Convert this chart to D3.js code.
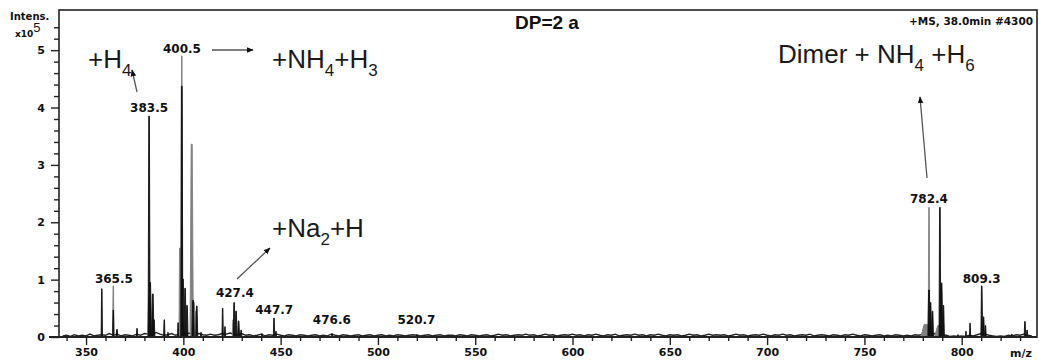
<!DOCTYPE html>
<html>
<head>
<meta charset="utf-8">
<script src="https://cdn.jsdelivr.net/npm/d3@7"></script>
<style>
  body { margin: 0; background: #fff; }
  svg { display: block; }
  .tick text { font-family: "DejaVu Sans", sans-serif; font-weight: bold; font-size: 11px; fill: #111; }
</style>
</head>
<body>
<div id="chart"></div>
<script>
// axis limits (m/z and intensity x10^5)
const mzRange = [336.1, 838.7];
const intensRange = [0, 5.7];
const xMajor = [350, 400, 450, 500, 550, 600, 650, 700, 750, 800];
const xMinor = [340, 360, 370, 380, 390, 410, 420, 430, 440, 460, 470, 480, 490, 510, 520, 530, 540,
  560, 570, 580, 590, 610, 620, 630, 640, 660, 670, 680, 690, 710, 720, 730, 740, 760, 770, 780, 790,
  810, 820, 830];
const yMajor = [0, 1, 2, 3, 4, 5];
const yMinor = [0.2, 0.4, 0.6, 0.8, 1.2, 1.4, 1.6, 1.8, 2.2, 2.4, 2.6, 2.8, 3.2, 3.4, 3.6, 3.8,
  4.2, 4.4, 4.6, 4.8, 5.2, 5.4];

// baseline noise, one reading every 2 m/z from 338 to 836
const noiseStart = 338;
const noiseStep = 2;
const noise = [
  0.02,0.03,0.01,0.04,0.02,0.03,0.02,0.05,0.02,0.03,
  0.04,0.03,0.06,0.03,0.05,0.02,0.04,0.03,0.02,0.05,
  0.03,0.06,0.05,0.04,0.08,0.05,0.03,0.04,0.06,0.03,
  0.05,0.08,0.06,0.07,0.05,0.06,0.04,0.03,0.05,0.03,
  0.04,0.06,0.05,0.07,0.05,0.04,0.06,0.03,0.04,0.02,
  0.03,0.05,0.02,0.04,0.03,0.05,0.03,0.02,0.04,0.03,
  0.02,0.04,0.03,0.02,0.03,0.04,0.02,0.03,0.02,0.05,
  0.03,0.02,0.04,0.03,0.02,0.03,0.04,0.02,0.03,0.04,
  0.02,0.03,0.04,0.02,0.03,0.02,0.04,0.03,0.02,0.03,
  0.04,0.03,0.02,0.03,0.04,0.02,0.03,0.04,0.02,0.03,
  0.03,0.02,0.04,0.03,0.02,0.04,0.03,0.02,0.03,0.04,
  0.02,0.03,0.05,0.03,0.04,0.02,0.03,0.04,0.03,0.05,
  0.03,0.04,0.02,0.03,0.05,0.03,0.04,0.02,0.03,0.04,
  0.03,0.05,0.03,0.04,0.02,0.04,0.03,0.05,0.03,0.02,
  0.04,0.03,0.05,0.02,0.03,0.04,0.03,0.05,0.03,0.04,
  0.02,0.04,0.03,0.05,0.03,0.02,0.04,0.03,0.04,0.02,
  0.03,0.05,0.03,0.04,0.02,0.03,0.05,0.03,0.04,0.03,
  0.04,0.02,0.03,0.05,0.03,0.04,0.02,0.03,0.04,0.03,
  0.05,0.03,0.02,0.04,0.03,0.05,0.03,0.04,0.02,0.03,
  0.04,0.03,0.05,0.02,0.03,0.04,0.03,0.02,0.04,0.03,
  0.02,0.04,0.03,0.05,0.03,0.02,0.04,0.03,0.02,0.03,
  0.04,0.02,0.03,0.02,0.04,0.03,0.02,0.03,0.02,0.04,
  0.03,0.05,0.06,0.05,0.06,0.05,0.04,0.03,0.01,0.02,
  0.01,0.02,0.01,0.03,0.02,0.04,0.06,0.05,0.03,0.02,
  0.01,0.02,0.01,0.03,0.02,0.04,0.03,0.05,0.03,0.02
];

// peaks: [m/z, intensity x10^5, base width in m/z]
const grayPeaks = [
  [364.0, 0.89, 0.7], [382.4, 0.70, 1.5], [398.2, 1.55, 0.9], [399.2, 4.90, 0.8],
  [404.3, 3.36, 1.7], [405.5, 0.60, 1.2], [406.5, 0.45, 1.0], [425.6, 0.30, 1.0],
  [781.5, 0.22, 5.0], [783.2, 2.26, 0.8], [788.5, 0.20, 5.0]
];
const blackPeaks = [
  [358.1, 0.84, 0.7], [364.0, 0.47, 0.7], [365.9, 0.13, 1.0], [376.2, 0.15, 0.6],
  [382.4, 3.85, 1.0], [382.9, 0.95, 1.5], [384.3, 0.75, 1.2], [384.9, 0.30, 1.0],
  [390.2, 0.30, 0.7], [392.1, 0.08, 0.6], [397.3, 0.25, 0.6], [399.2, 4.37, 1.1],
  [399.8, 1.01, 1.2], [400.9, 0.85, 1.0], [401.9, 0.55, 1.0], [405.0, 0.64, 1.2],
  [406.9, 0.54, 1.0], [409.1, 0.08, 0.6], [420.2, 0.50, 0.7], [421.4, 0.18, 0.6],
  [426.1, 0.60, 0.9], [427.1, 0.45, 1.0], [428.4, 0.28, 1.0], [429.7, 0.12, 0.8],
  [440.4, 0.06, 0.6], [446.6, 0.33, 0.7], [447.6, 0.10, 0.6], [476.4, 0.06, 0.6],
  [520.1, 0.04, 0.6], [783.2, 0.82, 1.2], [784.0, 0.60, 1.0], [785.0, 0.45, 1.0],
  [788.8, 2.26, 0.9], [789.6, 0.94, 1.4], [790.6, 0.55, 1.0], [798.1, 0.04, 0.6],
  [802.2, 0.10, 0.5], [804.3, 0.24, 0.6], [810.3, 0.89, 0.9], [811.2, 0.35, 1.0],
  [812.2, 0.20, 0.8], [825.8, 0.05, 0.6], [832.5, 0.27, 0.8], [833.6, 0.12, 0.8]
];

// peak labels: [text, m/z, intensity of label baseline]
const peakLabels = [
  ["365.5", 364.3, 0.94], ["383.5", 382.4, 3.92], ["400.5", 399.3, 4.95],
  ["427.4", 426.5, 0.70], ["447.7", 446.7, 0.40], ["476.6", 476.3, 0.23],
  ["520.7", 519.8, 0.23], ["782.4", 783.2, 2.33], ["809.3", 810.3, 0.94]
];

const W = 1039, H = 364;
const plot = {left: 59, top: 10, right: 1037, bottom: 337};

const svg = d3.select("#chart").append("svg")
  .attr("width", W).attr("height", H)
  .style("font-family", "'Liberation Sans', Arial, sans-serif");

const x = d3.scaleLinear().domain(mzRange).range([plot.left, plot.right]);
const y = d3.scaleLinear().domain(intensRange).range([plot.bottom, plot.top]);

svg.append("defs").append("marker")
  .attr("id", "head")
  .attr("viewBox", "0 0 10 10")
  .attr("refX", 9).attr("refY", 5)
  .attr("markerWidth", 7).attr("markerHeight", 7)
  .attr("markerUnits", "userSpaceOnUse")
  .attr("orient", "auto")
  .append("path").attr("d", "M0,1 L10,5 L0,9 Z").attr("fill", "#111");

// noise trace
const noisePts = noise.map((v, i) => [noiseStart + i * noiseStep, v]);
const line = d3.line().x(d => x(d[0])).y(d => y(d[1]));
svg.append("path")
  .attr("d", line(noisePts))
  .attr("fill", "none").attr("stroke", "#222").attr("stroke-width", 1.4);

function peakPath(p) {
  const [m, h, w] = p;
  return `M${x(m - w / 2)},${y(0)} L${x(m - w / 6)},${y(h)} L${x(m + w / 6)},${y(h)} L${x(m + w / 2)},${y(0)} Z`;
}

svg.append("g").selectAll("path").data(grayPeaks).join("path")
  .attr("d", peakPath)
  .attr("fill", "#808080").attr("stroke", "#808080").attr("stroke-width", 0.9)
  .attr("stroke-linejoin", "round");

svg.append("g").selectAll("path").data(blackPeaks).join("path")
  .attr("d", peakPath)
  .attr("fill", "#111").attr("stroke", "#111").attr("stroke-width", 0.9)
  .attr("stroke-linejoin", "round");

// frame
svg.append("rect")
  .attr("x", plot.left).attr("y", plot.top)
  .attr("width", plot.right - plot.left).attr("height", plot.bottom - plot.top)
  .attr("fill", "none").attr("stroke", "#222").attr("stroke-width", 1.6);

// axes
const xAxisG = svg.append("g").attr("transform", `translate(0,${plot.bottom})`);
xAxisG.append("g").call(d3.axisBottom(x).tickValues(xMinor).tickSize(4).tickSizeOuter(0).tickFormat(""))
  .call(g => g.select(".domain").remove());
xAxisG.append("g").call(d3.axisBottom(x).tickValues(xMajor).tickSize(8).tickSizeOuter(0).tickFormat(d3.format("d")))
  .call(g => g.select(".domain").remove())
  .call(g => g.selectAll("text").attr("y", 11));
xAxisG.selectAll("line").attr("stroke", "#222").attr("stroke-width", 1.4);
xAxisG.append("line").attr("x1", plot.left - 10).attr("x2", plot.right)
  .attr("stroke", "#222").attr("stroke-width", 1.8);

const yAxisG = svg.append("g").attr("transform", `translate(${plot.left},0)`);
yAxisG.append("g").call(d3.axisLeft(y).tickValues(yMinor).tickSize(5).tickSizeOuter(0).tickFormat(""))
  .call(g => g.select(".domain").remove());
yAxisG.append("g").call(d3.axisLeft(y).tickValues(yMajor).tickSize(8).tickSizeOuter(0).tickFormat(d3.format("d")))
  .call(g => g.select(".domain").remove())
  .call(g => g.selectAll("text").attr("x", -14));
yAxisG.selectAll("line").attr("stroke", "#222").attr("stroke-width", 1.4);

// axis captions
const smallBold = sel => sel.attr("font-family", "'DejaVu Sans', sans-serif").attr("font-weight", "bold").attr("fill", "#111");
svg.append("text").call(smallBold).attr("x", 10).attr("y", 20).attr("font-size", 10).text("Intens.");
const xt = svg.append("text").call(smallBold).attr("x", 15).attr("y", 37).attr("font-size", 9);
xt.append("tspan").text("x10");
xt.append("tspan").attr("dy", -5).attr("font-size", 13).attr("font-weight", "normal")
  .attr("font-family", "'Liberation Sans', Arial, sans-serif").text("5");
svg.append("text").call(smallBold).attr("x", 1032).attr("y", 357).attr("font-size", 11)
  .attr("text-anchor", "end").text("m/z");
svg.append("text").call(smallBold).attr("x", 1033).attr("y", 25).attr("font-size", 10.5)
  .attr("text-anchor", "end").text("+MS, 38.0min #4300");

// peak labels
svg.append("g").selectAll("text").data(peakLabels).join("text")
  .call(smallBold)
  .attr("font-size", 12)
  .attr("text-anchor", "middle")
  .attr("x", d => x(d[1]))
  .attr("y", d => y(d[2]))
  .text(d => d[0]);

// title
svg.append("text").attr("x", 515).attr("y", 29)
  .attr("font-size", 19).attr("font-weight", "bold").attr("fill", "#111")
  .text("DP=2 a");

// ion annotations with subscripts
function ion(xp, yp, parts) {
  const t = svg.append("text").attr("x", xp).attr("y", yp)
    .attr("font-size", 26).attr("fill", "#1a1a1a");
  let shifted = false;
  parts.forEach(([s, sub]) => {
    const ts = t.append("tspan").text(s);
    if (sub && !shifted) { ts.attr("font-size", 17).attr("dy", 8); shifted = true; }
    else if (!sub && shifted) { ts.attr("dy", -8); shifted = false; }
    else if (sub) ts.attr("font-size", 17);
  });
}
ion(88, 68, [["+H"], ["4", true]]);
ion(272, 68, [["+NH"], ["4", true], ["+H"], ["3", true]]);
ion(272, 237, [["+Na"], ["2", true], ["+H"]]);
ion(778, 63, [["Dimer + NH"], ["4", true], [" +H"], ["6", true]]);

// arrows
const arrows = [[137, 92, 132, 70], [212, 50, 253, 50], [237, 279, 270, 248], [927, 178, 920, 97]];
svg.append("g").selectAll("line").data(arrows).join("line")
  .attr("x1", d => d[0]).attr("y1", d => d[1]).attr("x2", d => d[2]).attr("y2", d => d[3])
  .attr("stroke", "#555").attr("stroke-width", 1.3)
  .attr("marker-end", "url(#head)");
</script>
</body>
</html>
